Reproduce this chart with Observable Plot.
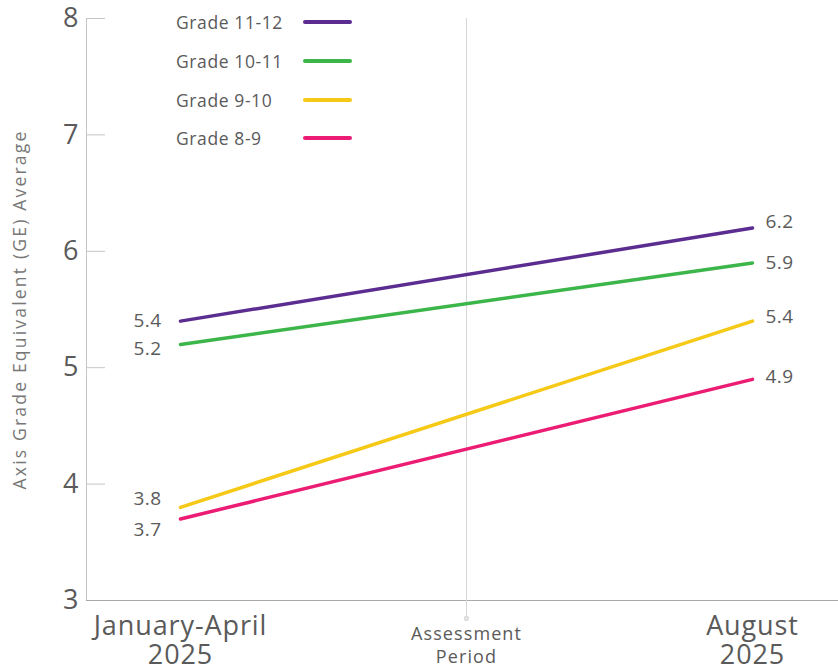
<!DOCTYPE html>
<html>
<head>
<meta charset="utf-8">
<script src="https://cdn.jsdelivr.net/npm/d3@7"></script>
<script src="https://cdn.jsdelivr.net/npm/@observablehq/plot@0.6"></script>
<style>
  html, body { margin: 0; padding: 0; background: #fff; }
  #wrap { position: relative; width: 838px; height: 669px; font-family: "Open Sans", sans-serif; }
  #legend { position: absolute; left: 176px; top: 3px; }
  .row { display: flex; align-items: center; height: 38.7px; }
  .row span { width: 127px; font-size: 17.5px; color: #5a5a5a; letter-spacing: 0.6px; }
  .row i { display: inline-block; width: 49px; height: 4px; border-radius: 2px; }
  .ylab text { letter-spacing: 2.2px; }
  .xlab text { letter-spacing: 0.9px; }
  .midlab text { letter-spacing: 1.1px; }
  .vlab text { letter-spacing: 0.4px; }
</style>
</head>
<body>
<div id="wrap"></div>
<script>
const periods = ["January-April 2025", "August 2025"];
const periodLabels = ["January-April\n2025", "August\n2025"];
const midPeriod = "Assessment Period";
const midLabel = "Assessment\nPeriod";
const series = ["Grade 11-12", "Grade 10-11", "Grade 9-10", "Grade 8-9"];
const startValues = [5.4, 5.2, 3.8, 3.7];
const endValues = [6.2, 5.9, 5.4, 4.9];
const colors = ["#5c2d91", "#3cb54a", "#f5c915", "#ec1c74"];
const yTicks = [3, 4, 5, 6, 7, 8];
const yLabel = "Axis Grade Equivalent (GE) Average";

// label nudges (styling) to avoid overlaps
const leftNudge = [0, 4, -8, 11];
const rightNudge = [-6, 0, -4, -2];

const rows = [];
series.forEach((s, i) => {
  rows.push({series: s, period: periods[0], value: startValues[i], nudge: leftNudge[i]});
  rows.push({series: s, period: periods[1], value: endValues[i], nudge: rightNudge[i]});
});
const leftRows = rows.filter(d => d.period === periods[0]);
const rightRows = rows.filter(d => d.period === periods[1]);

const textColor = "#5a5a5a";
const W = 838, ML = 86, MR = 0, TICK = 19;

const chart = Plot.plot({
  width: W,
  height: 669,
  marginLeft: ML,
  marginRight: MR,
  marginTop: 18,
  marginBottom: 69,
  style: {fontFamily: "Open Sans, sans-serif", color: textColor, background: "white"},
  x: {type: "point", domain: [periods[0], midPeriod, periods[1]], range: [180, 752], padding: 0, axis: null},
  y: {domain: [3, 8], axis: null},
  color: {domain: series, range: colors},
  marks: [
    Plot.frame({anchor: "left", stroke: "#c4c4c4"}),
    Plot.ruleY([3], {stroke: "#aaaaaa"}),
    Plot.tickY(yTicks.slice(1), {y: d => d, stroke: "#c4c4c4", insetRight: W - ML - MR - TICK}),
    Plot.ruleX([midPeriod], {y1: 8, y2: 3, stroke: "#d6d6d6", insetBottom: -18}),
    Plot.dot([midPeriod], {x: d => d, y: 3, dy: 18, symbol: "square", r: 1.6, stroke: "#d6d6d6", fill: "white"}),
    Plot.axisY(yTicks, {tickSize: 0, tickPadding: 8, fontSize: 27, fill: textColor, tickFormat: d => d, label: null}),
    Plot.text([yLabel], {frameAnchor: "left", textAnchor: "middle", rotate: -90, dx: -66, fontSize: 17.5, fill: "#777", className: "ylab"}),
    Plot.line(rows, {x: "period", y: "value", z: "series", stroke: "series", strokeWidth: 3.5, strokeLinecap: "round"}),
    Plot.text(leftRows, {x: "period", y: "value", text: d => d.value.toFixed(1), dx: -19, textAnchor: "end", fontSize: 19, fill: textColor, className: "vlab vleft"}),
    Plot.text(rightRows, {x: "period", y: "value", text: d => d.value.toFixed(1), dx: 13, textAnchor: "start", fontSize: 19, fill: textColor, className: "vlab vright"}),
    Plot.text(periods.map((p, i) => ({p, t: periodLabels[i]})), {x: "p", y: 3, text: "t", lineAnchor: "top", dy: 13, lineHeight: 1.1, fontSize: 27, fill: textColor, className: "xlab"}),
    Plot.text([midPeriod], {x: d => d, y: 3, text: () => midLabel, lineAnchor: "top", dy: 22, lineHeight: 1.33, fontSize: 18, fill: textColor, className: "midlab"})
  ]
});

const wrap = document.getElementById("wrap");
wrap.appendChild(chart);

const legend = document.createElement("div");
legend.id = "legend";
series.forEach((s, i) => {
  const r = document.createElement("div");
  r.className = "row";
  r.innerHTML = `<span>${s}</span><i style="background:${colors[i]}"></i>`;
  legend.appendChild(r);
});
wrap.appendChild(legend);

// per-label vertical nudges to avoid overlaps
[["vleft", leftRows], ["vright", rightRows]].forEach(([cls, arr]) => {
  const g = chart.querySelector("g." + cls);
  if (!g) return;
  g.querySelectorAll("text").forEach((t, j) => {
    const tr = t.getAttribute("transform") || "";
    t.setAttribute("transform", tr + ` translate(0,${arr[j].nudge})`);
  });
});
</script>
</body>
</html>
